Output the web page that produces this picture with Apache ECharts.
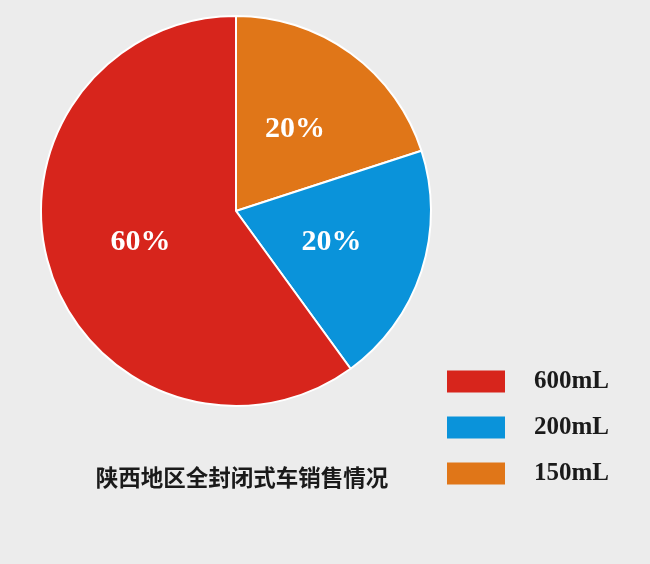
<!DOCTYPE html>
<html><head><meta charset="utf-8">
<script src="https://cdn.jsdelivr.net/npm/echarts@6/dist/echarts.min.js"></script>
<style>html,body{margin:0;padding:0;background:#ececec}#c{width:650px;height:564px}</style>
</head><body><div id="c"></div>
<script>
const categories = ['150mL', '200mL', '600mL'];
const values = [20, 20, 60];
const colors = ['#e07618', '#0a93da', '#d7251c'];
const legendOrder = ['600mL', '200mL', '150mL'];
const titleText = '陕西地区全封闭式车销售情况';

const chart = echarts.init(document.getElementById('c'));
chart.setOption({
  backgroundColor: '#ececec',
  animation: false,
  title: {
    text: titleText,
    left: 237, top: 461, textAlign: 'center',
    textStyle: { fontFamily: 'Noto Sans CJK SC', fontWeight: 'bold', fontSize: 22.5, color: '#1a1a1a' }
  },
  legend: {
    data: legendOrder,
    orient: 'vertical',
    left: 447, top: 369, padding: 0,
    itemWidth: 58, itemHeight: 22, itemGap: 21,
    icon: 'rect',
    itemStyle: { borderWidth: 0 },
    textStyle: { fontFamily: 'Liberation Serif', fontWeight: 'bold', fontSize: 25, lineHeight: 22, color: '#1a1a1a', padding: [0, 0, 0, 24] }
  },
  series: [{
    type: 'pie',
    center: [236, 211],
    radius: [0, 195],
    startAngle: 90,
    clockwise: true,
    label: {
      show: true, position: 'inside',
      formatter: '{c}%',
      fontFamily: 'Liberation Serif', fontWeight: 'bold', fontSize: 30, color: '#fff'
    },
    labelLine: { show: false },
    itemStyle: { borderColor: '#fff', borderWidth: 2 },
    emphasis: { disabled: true },
    data: categories.map((c, i) => ({ name: c, value: values[i], itemStyle: { color: colors[i] } }))
  }]
});
</script></body></html>
